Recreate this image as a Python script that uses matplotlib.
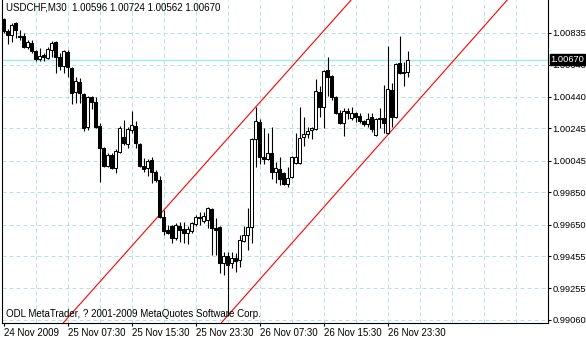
import matplotlib.pyplot as plt
import matplotlib.transforms as mtransforms

# USDCHF M30 candles, 24 Nov 2009 23:30 onwards
opens = [1.00921, 1.00848, 1.00823, 1.00897, 1.00816, 1.00816, 1.00749, 1.00773, 1.00724, 1.00674,
         1.00699, 1.00680, 1.00730, 1.00779, 1.00687, 1.00631, 1.00718, 1.00618, 1.00470, 1.00532,
         1.00457, 1.00254, 1.00439, 1.00408, 1.00260, 1.00124, 1.00013, 1.00081, 1.00000, 1.00099,
         1.00192, 1.00148, 1.00235, 1.00260, 1.00148, 1.00013, 1.00000, 1.00050, 0.99975, 0.99926,
         0.99697, 0.99617, 0.99642, 0.99567, 0.99642, 0.99623, 0.99598, 0.99611, 0.99654, 0.99697,
         0.99672, 0.99679, 0.99746, 0.99629, 0.99635, 0.99412, 0.99456, 0.99412, 0.99443, 0.99431,
         0.99549, 0.99586, 0.99635, 1.00179, 1.00285, 1.00068, 1.00056, 1.00093, 0.99975, 0.99994,
         0.99969, 0.99901, 0.99944, 1.00031, 1.00031, 1.00192, 1.00210, 1.00235, 1.00241, 1.00470,
         1.00377, 1.00606, 1.00569, 1.00439, 1.00340, 1.00278, 1.00352, 1.00309, 1.00340, 1.00322,
         1.00291, 1.00272, 1.00315, 1.00204, 1.00309, 1.00309, 1.00216, 1.00482, 1.00315, 1.00649,
         1.00594, 1.00596]
highs = [1.00928, 1.00860, 1.00897, 1.00903, 1.00854, 1.00835, 1.00792, 1.00792, 1.00730, 1.00742,
         1.00711, 1.00749, 1.00786, 1.00786, 1.00711, 1.00730, 1.00730, 1.00625, 1.00563, 1.00557,
         1.00464, 1.00445, 1.00445, 1.00439, 1.00278, 1.00130, 1.00093, 1.00093, 1.00117, 1.00260,
         1.00297, 1.00254, 1.00352, 1.00291, 1.00155, 1.00062, 1.00056, 1.00068, 0.99988, 0.99951,
         0.99740, 0.99648, 0.99648, 0.99660, 0.99666, 0.99666, 0.99642, 0.99666, 0.99710, 0.99728,
         0.99728, 0.99759, 0.99753, 0.99691, 0.99642, 0.99481, 0.99481, 0.99481, 0.99474, 0.99586,
         0.99642, 0.99753, 1.00186, 1.00377, 1.00303, 1.00247, 1.00216, 1.00254, 1.00037, 1.00068,
         0.99975, 1.00006, 1.00074, 1.00216, 1.00377, 1.00315, 1.00254, 1.00254, 1.00550, 1.00507,
         1.00606, 1.00687, 1.00575, 1.00445, 1.00359, 1.00371, 1.00371, 1.00377, 1.00346, 1.00340,
         1.00297, 1.00340, 1.00340, 1.00309, 1.00371, 1.00513, 1.00755, 1.00526, 1.00649, 1.00816,
         1.00656, 1.00724]
lows = [1.00835, 1.00767, 1.00779, 1.00804, 1.00792, 1.00742, 1.00736, 1.00711, 1.00662, 1.00662,
        1.00662, 1.00674, 1.00687, 1.00588, 1.00606, 1.00588, 1.00563, 1.00396, 1.00402, 1.00402,
        1.00229, 1.00235, 1.00365, 1.00247, 0.99913, 1.00006, 1.00006, 0.99994, 0.99969, 1.00093,
        1.00142, 1.00124, 1.00216, 1.00124, 1.00006, 0.99975, 0.99951, 0.99907, 0.99913, 0.99691,
        0.99586, 0.99592, 0.99536, 0.99555, 0.99542, 0.99536, 0.99530, 0.99598, 0.99642, 0.99648,
        0.99660, 0.99629, 0.99462, 0.99462, 0.99350, 0.99338, 0.99085, 0.99381, 0.99357, 0.99388,
        0.99542, 0.99493, 0.99536, 1.00006, 1.00025, 1.00025, 1.00050, 0.99932, 0.99907, 0.99895,
        0.99895, 0.99883, 0.99938, 1.00025, 1.00025, 1.00136, 1.00186, 1.00179, 1.00235, 1.00315,
        1.00247, 1.00445, 1.00420, 1.00334, 1.00272, 1.00198, 1.00303, 1.00297, 1.00285, 1.00278,
        1.00260, 1.00254, 1.00223, 1.00198, 1.00247, 1.00216, 1.00210, 1.00254, 1.00309, 1.00581,
        1.00507, 1.00562]
closes = [1.00848, 1.00823, 1.00885, 1.00854, 1.00810, 1.00749, 1.00779, 1.00724, 1.00674, 1.00693,
          1.00687, 1.00736, 1.00773, 1.00687, 1.00631, 1.00724, 1.00625, 1.00464, 1.00538, 1.00464,
          1.00247, 1.00439, 1.00408, 1.00254, 1.00124, 1.00013, 1.00081, 1.00000, 1.00105, 1.00247,
          1.00155, 1.00241, 1.00266, 1.00155, 1.00013, 0.99994, 1.00043, 0.99975, 0.99926, 0.99697,
          0.99611, 0.99598, 0.99567, 0.99648, 0.99617, 0.99598, 0.99623, 0.99660, 0.99697, 0.99691,
          0.99703, 0.99753, 0.99629, 0.99617, 0.99412, 0.99456, 0.99400, 0.99443, 0.99425, 0.99555,
          0.99586, 0.99635, 1.00179, 1.00291, 1.00068, 1.00056, 1.00093, 0.99975, 1.00000, 0.99932,
          0.99901, 0.99938, 1.00068, 1.00068, 1.00186, 1.00210, 1.00229, 1.00247, 1.00476, 1.00377,
          1.00600, 1.00563, 1.00439, 1.00340, 1.00278, 1.00352, 1.00340, 1.00340, 1.00315, 1.00291,
          1.00272, 1.00303, 1.00241, 1.00303, 1.00303, 1.00278, 1.00489, 1.00315, 1.00643, 1.00588,
          1.00588, 1.00670]

# time axis labels (bar index -> text)
tick_bars = [0, 16, 32, 48, 64, 80, 96]
tick_labels = ["24 Nov 2009", "25 Nov 07:30", "25 Nov 15:30", "25 Nov 23:30",
               "26 Nov 07:30", "26 Nov 15:30", "26 Nov 23:30"]
price_ticks = [1.00835, 1.00640, 1.00440, 1.00245, 1.00045, 0.99850,
               0.99650, 0.99455, 0.99255, 0.99060]

# channel trendlines: (bar, price) anchors
upper_line = [(15.8, 0.99066), (86.9, 1.01039)]
lower_line = [(56.2, 0.99091), (118.7, 1.00837)]

bid = closes[-1]
grid_col = "#b8e2e2"

plt.rcParams['font.family'] = ['Liberation Sans', 'DejaVu Sans']

fig = plt.figure(figsize=(5.86, 3.40), dpi=100)
ax = fig.add_axes([2 / 586, 17.5 / 340, 546 / 586, 322.5 / 340])
ax.set_xlim(-0.375, 136.125)
ax.set_ylim(0.990444, 1.010391)

# dashed grid
for v in price_ticks:
    ax.axhline(v, color=grid_col, lw=0.72, linestyle=(0, (4, 3)), zorder=0)
for b in range(8, 137, 8):
    ax.axvline(b, color=grid_col, lw=0.72, linestyle=(0, (4, 3)), zorder=0)

# bid line
ax.axhline(bid, color="#a4eaea", lw=1.0, zorder=1)

# channel
ax.axline(upper_line[0], upper_line[1], color="red", lw=0.8, zorder=2)
ax.axline(lower_line[0], lower_line[1], color="red", lw=0.8, zorder=2)

# candles
idx = list(range(len(opens)))
ax.vlines(idx, lows, highs, color="black", lw=0.8, zorder=3)
bottoms = [min(o, c) for o, c in zip(opens, closes)]
heights = [max(abs(c - o), 0.000012) for o, c in zip(opens, closes)]
fills = ["white" if c >= o else "black" for o, c in zip(opens, closes)]
ax.bar(idx, heights, width=0.55, bottom=bottoms, color=fills,
       edgecolor="black", linewidth=0.75, zorder=4)

# axes styling
ax.spines["top"].set_visible(False)
for s in ["left", "right", "bottom"]:
    ax.spines[s].set_linewidth(0.8)
ax.yaxis.tick_right()
ax.set_yticks(price_ticks)
ax.set_yticklabels([f"{v:.5f}" for v in price_ticks])
ax.set_xticks(tick_bars)
ax.set_xticklabels(tick_labels)
for lab in ax.get_xticklabels():
    lab.set_horizontalalignment("left")
ax.tick_params(axis="both", direction="out", length=2.5, width=0.8, labelsize=7, pad=1.5)
ax.tick_params(axis="y", labelsize=6.7, pad=0.8)

# current price box
trans = mtransforms.blended_transform_factory(ax.transAxes, ax.transData)
ax.text(1.0 + 2.5 / 546, bid, f"{bid:.5f}", transform=trans, ha="left", va="center",
        color="white", fontsize=6.7, clip_on=False, zorder=10,
        bbox=dict(boxstyle="square,pad=0.1", fc="black", ec="black"))

header = f"USDCHF,M30  {opens[-1]:.5f} {highs[-1]:.5f} {lows[-1]:.5f} {closes[-1]:.5f}"
fig.text(6 / 586, 1 - 7.5 / 340, header, fontsize=7, va="center", ha="left")
fig.text(6 / 586, 1 - 314 / 340, "ODL MetaTrader, ? 2001-2009 MetaQuotes Software Corp.",
         fontsize=7, va="center", ha="left")

fig.savefig("out.png", dpi=100)
